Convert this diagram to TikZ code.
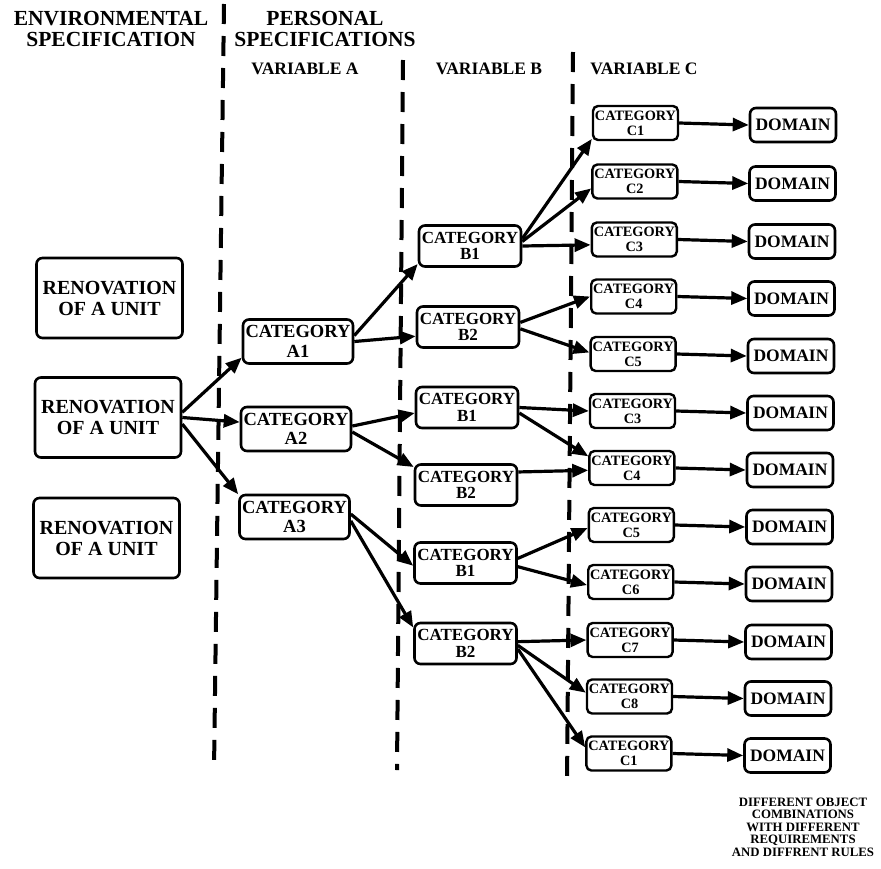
\documentclass[tikz,border=0pt]{standalone}
\usepackage{fontspec}
\setmainfont{Liberation Serif}
\usetikzlibrary{arrows.meta}
\tikzset{
  box/.style={draw, line width=2.6pt, rounded corners=6pt, align=center, inner sep=0pt, font=\bfseries},
  renbox/.style={box, minimum width=146pt, minimum height=80pt, font=\bfseries\fontsize{20}{21}\selectfont},
  abox/.style={box, minimum width=110pt, minimum height=44pt, font=\bfseries\fontsize{18.5}{19.5}\selectfont},
  bbox/.style={box, minimum width=102pt, minimum height=41pt, font=\bfseries\fontsize{17}{16.5}\selectfont},
  cbox/.style={box, line width=2.4pt, rounded corners=5pt, minimum width=85pt, minimum height=34pt, font=\bfseries\fontsize{14.3}{15}\selectfont},
  dbox/.style={box, minimum width=86pt, minimum height=34pt, font=\bfseries\fontsize{17.5}{17.5}\selectfont},
  head/.style={align=center, inner sep=0pt, font=\bfseries\fontsize{21.5}{21}\selectfont},
  varhead/.style={inner sep=0pt, font=\bfseries\fontsize{17.5}{17.5}\selectfont},
  note/.style={align=center, inner sep=0pt, font=\bfseries\fontsize{12.8}{12.5}\selectfont},
  arr/.style={line width=3.2pt, -{Triangle[length=16pt,width=13pt]}},
  divider/.style={line width=4pt, dash pattern=on 20pt off 12pt}
}
\begin{document}
\begin{tikzpicture}[x=1pt, y=-1pt]
\useasboundingbox (0,0) rectangle (881,868);
% column dividers
\coordinate (l1t) at (224,4);   \coordinate (l1b) at (214,770);
\coordinate (l2t) at (403,60);  \coordinate (l2b) at (397,770);
\coordinate (l3t) at (573,52);  \coordinate (l3b) at (567,787);
\draw[divider] (l1t) -- (l1b);
\draw[divider] (l2t) -- (l2b);
\draw[divider] (l3t) -- (l3b);
% headings
\node[head] (env) at (111,29) {ENVIRONMENTAL\\SPECIFICATION};
\node[head] (pers) at (325,29) {PERSONAL\\SPECIFICATIONS};
\node[varhead] (varA) at (305,69) {VARIABLE A};
\node[varhead] (varB) at (489,69) {VARIABLE B};
\node[varhead] (varC) at (644,69) {VARIABLE C};
% environmental
\node[renbox] (RenT) at (109.5,298) {RENOVATION\\OF A UNIT};
\node[renbox] (RenM) at (108,417.5) {RENOVATION\\OF A UNIT};
\node[renbox] (RenB) at (106.5,538) {RENOVATION\\OF A UNIT};
% variable A
\node[abox] (A1) at (298,341.5) {CATEGORY\\A1};
\node[abox] (A2) at (296,429) {CATEGORY\\A2};
\node[abox] (A3) at (294.5,517) {CATEGORY\\A3};
% variable B
\node[bbox] (B1a) at (470,246) {CATEGORY\\B1};
\node[bbox] (B2a) at (468,327) {CATEGORY\\B2};
\node[bbox] (B1b) at (467,407.5) {CATEGORY\\B1};
\node[bbox] (B2b) at (466,485) {CATEGORY\\B2};
\node[bbox] (B1c) at (465.5,563) {CATEGORY\\B1};
\node[bbox] (B2c) at (465.5,643.5) {CATEGORY\\B2};
% variable C and domains
\foreach \k/\lab/\yy in {1/C1/123, 2/C2/181.5, 3/C3/239.5, 4/C4/296.5, 5/C5/354, 6/C3/411,
                         7/C4/468, 8/C5/525, 9/C6/582, 10/C7/640, 11/C8/696.5, 12/C1/753.5}{
  \node[cbox] (C\k) at ({635.5-(\k-1)*0.6},\yy) {CATEGORY\\\lab};
  \node[dbox] (D\k) at ({793-(\k-1)*0.5},{\yy+2}) {DOMAIN};
  \draw[arr] (C\k.east) -- (D\k.west);
}
% connectors env -> A
\draw[arr] (RenM.4) -- (A1.196);
\draw[arr] (RenM.0) -- (A2.173);
\draw[arr] (RenM.-5) -- (A3.158);
% A -> B
\draw[arr] (A1.6) -- (B1a.199);
\draw[arr] (A1.0) -- (B2a.190);
\draw[arr] (A2.3) -- (B1b.186);
\draw[arr] (A2.-3) -- (B2b.161);
\draw[arr] (A3.3) -- (B1c.183);
\draw[arr] (A3.-4) -- (B2c.163);
% B -> C
\draw[arr] (B1a.8) -- (C1.200);
\draw[arr] (B1a.5) -- (C2.189);
\draw[arr] (B1a.0) -- (C3.187);
\draw[arr] (B2a.5) -- (C4.180);
\draw[arr] (B2a.-2) -- (C5.178);
\draw[arr] (B1b.0) -- (C6.180);
\draw[arr] (B1b.-6) -- (C7.165);
\draw[arr] (B2b.14) -- (C7.183);
\draw[arr] (B1c.5) -- (C8.184);
\draw[arr] (B1c.-4) -- (C9.184);
\draw[arr] (B2c.2) -- (C10.180);
\draw[arr] (B2c.-2) -- (C11.175);
\draw[arr] (B2c.-6) -- (C12.172);
% note
\node[note] (note) at (803,827) {DIFFERENT OBJECT\\COMBINATIONS\\WITH DIFFERENT\\REQUIREMENTS\\AND DIFFRENT RULES};
\end{tikzpicture}
\end{document}
